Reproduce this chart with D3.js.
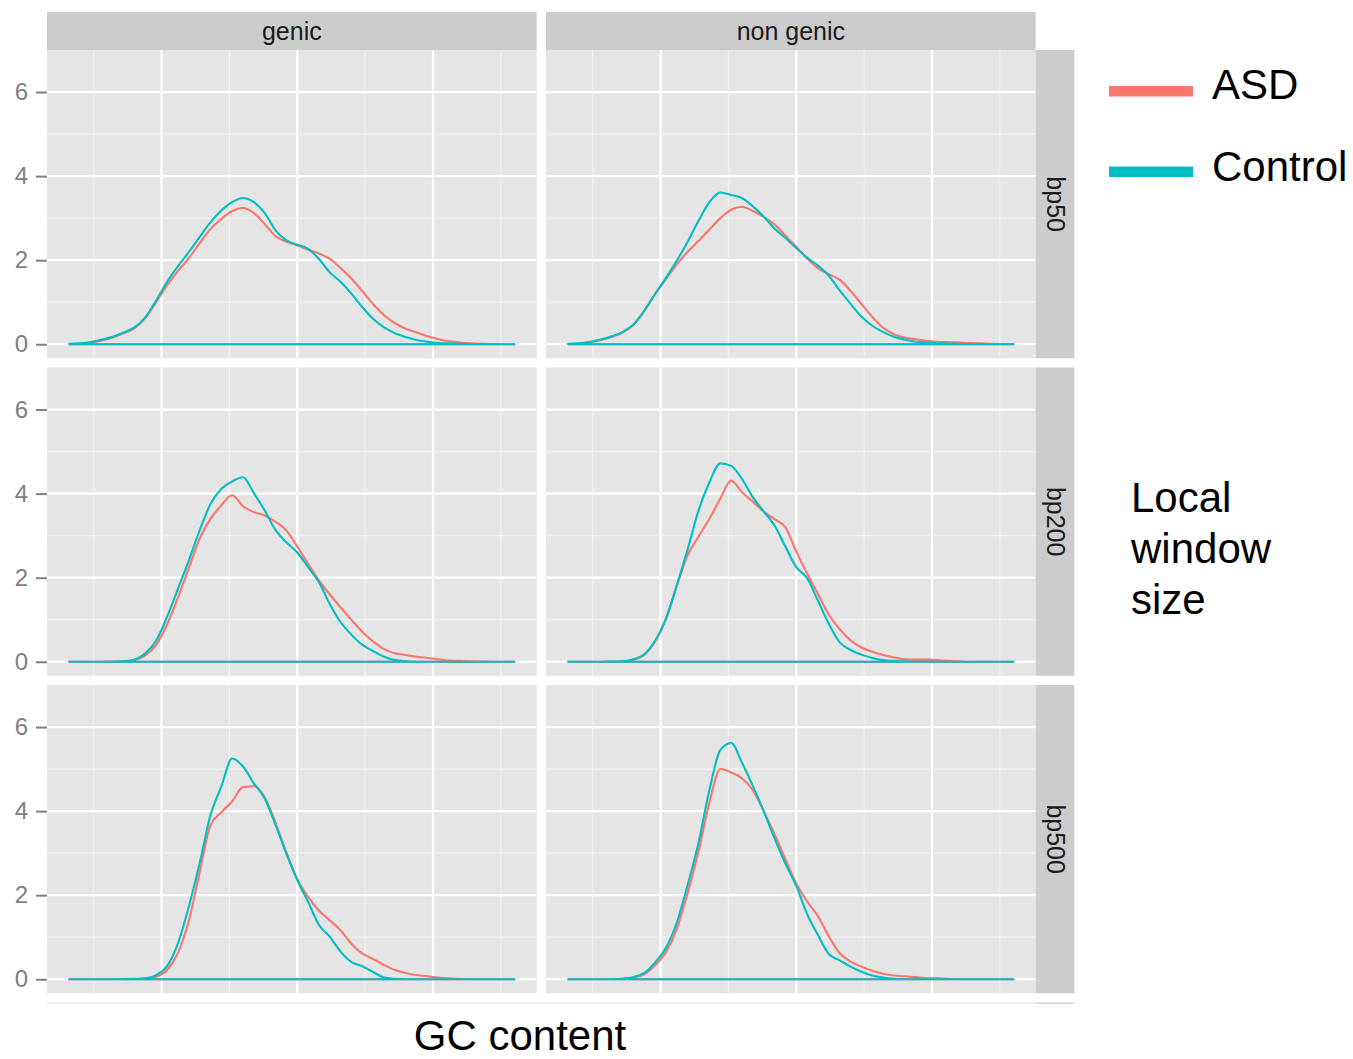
<!DOCTYPE html>
<html><head><meta charset="utf-8">
<script src="https://cdn.jsdelivr.net/npm/d3@7"></script>
<style>
body{margin:0;background:#fff;}
text{font-family:"Liberation Sans",Arial,Helvetica,sans-serif;}
</style></head>
<body><svg id="chart" width="1353" height="1059"></svg>
<script>
// ---------------- data ----------------
const columns = ["genic", "non genic"];
const rows = ["bp50", "bp200", "bp500"];
const groups = ["ASD", "Control"];
const gc = [0.08,0.10,0.12,0.14,0.16,0.18,0.20,0.22,0.24,0.26,0.28,0.30,0.32,0.34,0.36,0.38,0.40,0.42,0.44,0.46,0.48,0.50,0.52,0.54,0.56,0.58,0.60,0.62,0.64,0.66,0.68,0.70,0.72,0.74,0.76,0.78,0.80,0.82,0.84,0.86,0.88,0.90];
const yTicks = [0, 2, 4, 6];
const yMinor = [1, 3, 5];
const xMajor = [0.25, 0.5, 0.75];
const xMinor = [0.125, 0.375, 0.625, 0.875];

const genic_bp50_ASD     = [0,0.01,0.04,0.09,0.16,0.26,0.38,0.62,1.00,1.40,1.74,2.04,2.40,2.74,2.98,3.17,3.24,3.12,2.86,2.57,2.44,2.35,2.25,2.16,2.03,1.81,1.56,1.26,0.95,0.69,0.50,0.37,0.28,0.19,0.12,0.07,0.04,0.02,0.01,0.005,0,0];
const genic_bp50_Control = [0.01,0.02,0.05,0.11,0.18,0.28,0.40,0.64,1.04,1.48,1.85,2.19,2.55,2.90,3.18,3.38,3.48,3.38,3.12,2.71,2.47,2.37,2.27,2.03,1.71,1.48,1.20,0.88,0.60,0.40,0.26,0.17,0.10,0.06,0.03,0.02,0.01,0,0,0,0,0];
const nongenic_bp50_ASD     = [0,0.01,0.05,0.10,0.18,0.28,0.46,0.79,1.19,1.55,1.90,2.20,2.46,2.73,3.00,3.20,3.27,3.17,3.03,2.85,2.58,2.32,2.04,1.81,1.67,1.53,1.27,0.96,0.65,0.39,0.24,0.16,0.12,0.08,0.06,0.05,0.04,0.03,0.02,0.01,0.005,0];
const nongenic_bp50_Control = [0.01,0.02,0.06,0.11,0.19,0.29,0.47,0.80,1.20,1.58,1.99,2.44,2.94,3.38,3.61,3.55,3.48,3.28,3.04,2.75,2.53,2.29,2.06,1.87,1.63,1.28,0.96,0.66,0.44,0.29,0.18,0.11,0.06,0.04,0.02,0.015,0.01,0,0,0,0,0];
const genic_bp200_ASD     = [0,0,0,0,0.005,0.01,0.04,0.15,0.40,0.88,1.52,2.22,2.92,3.40,3.72,3.96,3.70,3.56,3.48,3.33,3.12,2.74,2.33,1.93,1.60,1.29,0.99,0.71,0.48,0.30,0.20,0.16,0.12,0.09,0.06,0.03,0.02,0.01,0.005,0,0,0];
const genic_bp200_Control = [0,0,0,0,0.005,0.01,0.05,0.20,0.50,1.06,1.73,2.40,3.12,3.75,4.11,4.29,4.39,4.01,3.60,3.13,2.84,2.60,2.25,1.89,1.37,0.94,0.64,0.40,0.25,0.12,0.04,0.01,0,0,0,0,0,0,0,0,0,0];
const nongenic_bp200_ASD     = [0,0,0,0,0.005,0.01,0.05,0.16,0.48,1.03,1.81,2.54,2.98,3.40,3.88,4.31,4.03,3.81,3.57,3.39,3.20,2.62,2.10,1.61,1.12,0.77,0.51,0.34,0.24,0.16,0.10,0.06,0.05,0.05,0.04,0.02,0.01,0,0,0,0,0];
const nongenic_bp200_Control = [0,0,0,0,0.005,0.01,0.06,0.18,0.50,1.02,1.82,2.68,3.60,4.27,4.72,4.66,4.35,3.91,3.58,3.24,2.74,2.25,1.99,1.45,0.90,0.46,0.28,0.17,0.09,0.04,0.02,0.01,0,0,0,0,0,0,0,0,0,0];
const genic_bp500_ASD     = [0,0,0,0,0,0,0,0.01,0.06,0.22,0.62,1.38,2.53,3.66,3.97,4.23,4.57,4.59,4.33,3.72,3.01,2.38,1.96,1.63,1.40,1.16,0.84,0.61,0.48,0.34,0.22,0.15,0.10,0.07,0.04,0.02,0.01,0,0,0,0,0];
const genic_bp500_Control = [0,0,0,0,0,0.003,0.01,0.02,0.10,0.31,0.85,1.72,2.75,3.90,4.58,5.25,5.06,4.66,4.30,3.67,2.99,2.36,1.84,1.29,1.01,0.65,0.41,0.31,0.17,0.04,0.01,0,0,0,0,0,0,0,0,0,0,0];
const nongenic_bp500_ASD     = [0,0,0,0,0,0.01,0.04,0.12,0.33,0.65,1.20,2.05,3.05,4.20,5.00,4.92,4.78,4.50,4.00,3.45,2.85,2.28,1.85,1.50,1.02,0.62,0.42,0.30,0.20,0.13,0.09,0.07,0.05,0.03,0.02,0.01,0,0,0,0,0,0];
const nongenic_bp500_Control = [0,0,0,0,0,0.01,0.05,0.15,0.40,0.75,1.35,2.25,3.25,4.50,5.45,5.62,5.15,4.60,4.00,3.35,2.75,2.22,1.55,1.05,0.60,0.45,0.30,0.18,0.09,0.04,0.01,0,0,0,0,0,0,0,0,0,0,0];

const seriesTable = {
  "genic|bp50": {ASD: genic_bp50_ASD, Control: genic_bp50_Control},
  "non genic|bp50": {ASD: nongenic_bp50_ASD, Control: nongenic_bp50_Control},
  "genic|bp200": {ASD: genic_bp200_ASD, Control: genic_bp200_Control},
  "non genic|bp200": {ASD: nongenic_bp200_ASD, Control: nongenic_bp200_Control},
  "genic|bp500": {ASD: genic_bp500_ASD, Control: genic_bp500_Control},
  "non genic|bp500": {ASD: nongenic_bp500_ASD, Control: nongenic_bp500_Control}
};

// ---------------- layout ----------------
const colors = {ASD: "#F8766D", Control: "#00BFC4"};
const panelX = [47, 546], panelW = 489.7;
const panelY = [50, 367.5, 685], panelH = 308.3;
const stripTopY = 12, stripTopH = 38;
const stripRightX = 1035.7, stripRightW = 38.6;

const svg = d3.select("#chart");

const xr = d3.extent(gc);
const xpad = (xr[1] - xr[0]) * 0.05;
const x = d3.scaleLinear().domain([xr[0] - xpad, xr[1] + xpad]).range([0, panelW]);
const y = d3.scaleLinear().domain([-0.334, 7.0]).range([panelH, 0]);

columns.forEach((col, ci) => {
  svg.append("rect").attr("x", panelX[ci]).attr("y", stripTopY)
    .attr("width", panelW).attr("height", stripTopH).attr("fill", "#cccccc");
  svg.append("text").attr("x", panelX[ci] + panelW / 2).attr("y", stripTopY + stripTopH / 2 + 8.5)
    .attr("text-anchor", "middle").attr("font-size", 25).attr("fill", "#1a1a1a").text(col);

  rows.forEach((row, ri) => {
    const g = svg.append("g").attr("transform", `translate(${panelX[ci]},${panelY[ri]})`);
    g.append("rect").attr("width", panelW).attr("height", panelH).attr("fill", "#e5e5e5");
    g.selectAll(".ymin").data(yMinor).enter().append("line")
      .attr("x1", 0).attr("x2", panelW).attr("y1", d => y(d)).attr("y2", d => y(d))
      .attr("stroke", "#f2f2f2").attr("stroke-width", 1.2);
    g.selectAll(".xmin").data(xMinor).enter().append("line")
      .attr("y1", 0).attr("y2", panelH).attr("x1", d => x(d)).attr("x2", d => x(d))
      .attr("stroke", "#f2f2f2").attr("stroke-width", 1.2);
    g.selectAll(".ymaj").data(yTicks).enter().append("line")
      .attr("x1", 0).attr("x2", panelW).attr("y1", d => y(d)).attr("y2", d => y(d))
      .attr("stroke", "#ffffff").attr("stroke-width", 2.2);
    g.selectAll(".xmaj").data(xMajor).enter().append("line")
      .attr("y1", 0).attr("y2", panelH).attr("x1", d => x(d)).attr("x2", d => x(d))
      .attr("stroke", "#ffffff").attr("stroke-width", 2.2);

    const area = d3.area().curve(d3.curveMonotoneX)
      .x((d, i) => x(gc[i])).y0(y(0)).y1(d => y(d));
    groups.forEach(grp => {
      g.append("path").datum(seriesTable[col + "|" + row][grp])
        .attr("d", area).attr("fill", "none")
        .attr("stroke", colors[grp]).attr("stroke-width", 2.1).attr("stroke-linejoin", "round");
    });

    if (ci === 0) {
      const ax = d3.axisLeft(y).tickValues(yTicks).tickSize(11).tickPadding(8).tickFormat(d3.format("d"));
      const ag = g.append("g").call(ax);
      ag.select(".domain").remove();
      ag.selectAll(".tick line").attr("stroke", "#7f7f7f").attr("stroke-width", 2);
      ag.selectAll(".tick text").attr("fill", "#7f7f7f").attr("font-size", 24)
        .attr("font-family", "'Liberation Sans',Arial,sans-serif");
    }
  });
});

rows.forEach((row, ri) => {
  svg.append("rect").attr("x", stripRightX).attr("y", panelY[ri])
    .attr("width", stripRightW).attr("height", panelH).attr("fill", "#cccccc");
  const cx = stripRightX + stripRightW / 2, cy = panelY[ri] + panelH / 2;
  svg.append("text").attr("transform", `translate(${cx - 8.5},${cy}) rotate(90)`)
    .attr("text-anchor", "middle").attr("font-size", 25).attr("fill", "#1a1a1a").text(row);
});

svg.append("rect").attr("x", panelX[0]).attr("y", 1002.5).attr("width", stripRightX - panelX[0]).attr("height", 1.2).attr("fill", "#e3e3e3");
svg.append("rect").attr("x", stripRightX).attr("y", 1002.5).attr("width", stripRightW).attr("height", 1.2).attr("fill", "#c8c8c8");

svg.append("text").attr("x", 520).attr("y", 1050).attr("text-anchor", "middle")
  .attr("font-size", 42).attr("fill", "#000").text("GC content");

const legendY = [91.2, 171.7];
const legendBase = [99, 181];
groups.forEach((grp, i) => {
  svg.append("line").attr("x1", 1109).attr("x2", 1193).attr("y1", legendY[i]).attr("y2", legendY[i])
    .attr("stroke", colors[grp]).attr("stroke-width", 10.5);
  svg.append("text").attr("x", 1212).attr("y", legendBase[i])
    .attr("font-size", 42).attr("fill", "#000").text(grp);
});
const titleLines = ["Local", "window", "size"];
titleLines.forEach((t, i) => {
  svg.append("text").attr("x", 1131).attr("y", 512 + i * 51).attr("font-size", 42).attr("fill", "#000").text(t);
});
</script></body></html>
